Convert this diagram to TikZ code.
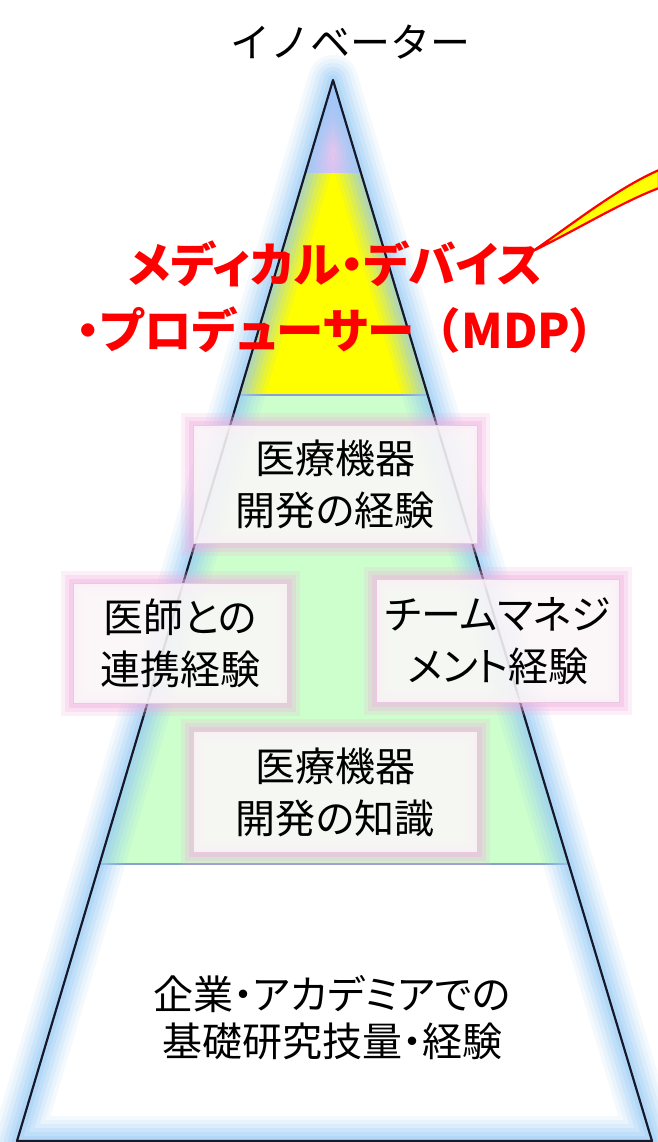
\documentclass[tikz,border=0pt]{standalone}
\usepackage{fontspec}
\newfontfamily\jp{Noto Sans CJK JP}[RawFeature=+palt]
\newfontfamily\jpm{Noto Sans CJK JP}
\usetikzlibrary{backgrounds}
\pgfdeclarelayer{glowlayer}
\pgfsetlayers{background,glowlayer,main}
\definecolor{lav}{HTML}{C4BFF6}
\definecolor{lpink}{HTML}{F6C6EE}
\definecolor{ylw}{HTML}{FFFF00}
\definecolor{grn}{HTML}{CCFFCC}
\definecolor{glowb}{HTML}{98CCF6}
\definecolor{sepc}{HTML}{8C9FD2}
\definecolor{edgec}{HTML}{15192B}
\definecolor{boxfill}{HTML}{FBF6F8}
\definecolor{boxedge}{HTML}{EBC8E2}
\definecolor{pglow}{HTML}{F2B0E0}
\definecolor{mdpred}{HTML}{FF0000}
\begin{document}
\begin{tikzpicture}[x=1pt,y=-1pt,
  boxnode/.style={fill=boxfill, fill opacity=0.88, text opacity=1, draw=boxedge, line width=1pt,
    align=center, inner sep=0pt, font=\jp\fontsize{40}{52}\selectfont},
  trioutline/.style={edgec, line width=2.2pt, line join=round},
  sepline/.style={sepc, line width=1.2pt},
  callout/.style={fill=ylw, draw=mdpred, line width=2.2pt, line join=round}]
\useasboundingbox (0,0) rectangle (657,1142);
\coordinate (A) at (333,80);
\coordinate (L) at (17,1141);
\coordinate (R) at (652,1141);

\begin{pgfonlayer}{background}
  \fill[white] (0,0) rectangle (657,1142);
  \begin{scope}
    \clip (A) -- (L) -- (R) -- cycle;
    \fill[lav] (0,0) rectangle (657,173);
    \shade[inner color=lpink, outer color=lav] (333,150) circle[radius=40];
    \fill[ylw] (0,173) rectangle (657,395);
    \fill[grn] (0,395) rectangle (657,864);
    \draw[sepline] (0,395) -- (657,395);
    \draw[sepline] (0,864) -- (657,864);
  \end{scope}
  \foreach \w/\o in {50/0.1, 42/0.13, 34/0.16, 26/0.2, 18/0.25, 10/0.3}
    \draw[glowb, line width=\w pt, opacity=\o, line join=round] (A) -- (L) -- (R) -- cycle;
  \draw[trioutline] (A) -- (L) -- (R) -- cycle;
\end{pgfonlayer}

\node[font=\jpm\fontsize{40}{48}\selectfont] (title) at (350,42) {イノベーター};

\node[boxnode, minimum width=284pt, minimum height=118pt] (b1) at (335,484) {医療機器\\開発の経験};
\node[boxnode, minimum width=214pt, minimum height=120pt] (b2) at (180,643) {医師との\\連携経験};
\node[boxnode, minimum width=243pt, minimum height=123pt] (b3) at (498,641) {チームマネジ\\メント経験};
\node[boxnode, minimum width=284pt, minimum height=121pt] (b4) at (335,792) {医療機器\\開発の知識};

\begin{pgfonlayer}{glowlayer}
  \foreach \b in {b1,b2,b3,b4}{
    \foreach \w/\o in {24/0.2, 16/0.25, 8/0.35}
      \draw[pglow, line width=\w pt, opacity=\o] (\b.south west) rectangle (\b.north east);
  }
\end{pgfonlayer}

\node[font=\jp\fontsize{40}{47}\selectfont, align=center] (base) at (332,1018) {企業・アカデミアでの\\基礎研究技量・経験};

\path[callout] (533,251) .. controls (578,220) and (618,188) .. (659,170) -- (659,188) .. controls (620,203) and (580,228) .. (533,251) -- cycle;

\node[font=\jp\bfseries\fontsize{47.5}{66}\selectfont, text=mdpred, align=center] (mdp) at (335,297) {メディカル・デバイス\\・プロデューサー{\jpm\bfseries （}MDP）};
\end{tikzpicture}
\end{document}
